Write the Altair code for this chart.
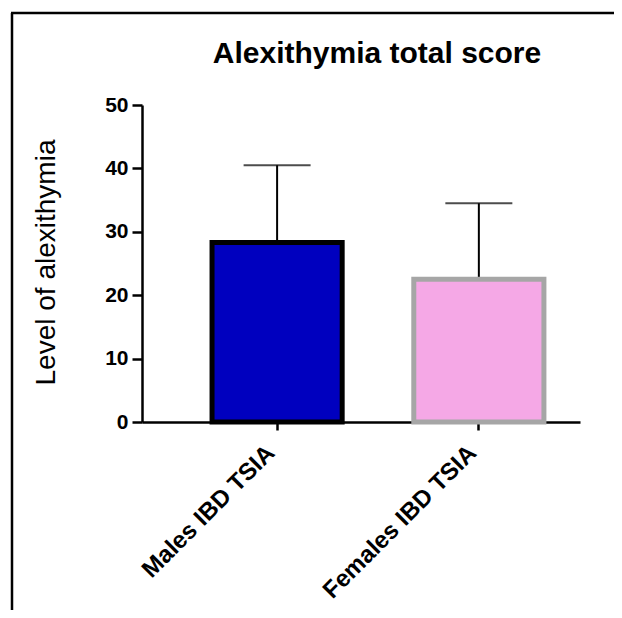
import altair as alt
import pandas as pd

groups = ["Males IBD TSIA", "Females IBD TSIA"]
means = [28.3, 22.5]
sds = [12.2, 12.0]
fills = ["#0000BF", "#F5A8E6"]
strokes = ["#000000", "#A6A6A6"]
y_ticks = [0, 10, 20, 30, 40, 50]
chart_title = "Alexithymia total score"

df = pd.DataFrame({"group": groups, "mean": means, "sd": sds})
df["upper"] = df["mean"] + df["sd"]

FONT = "Liberation Sans"

x_enc = alt.X(
    "group:N",
    sort=groups,
    scale=alt.Scale(paddingInner=0.355, paddingOuter=0.263, align=0.66),
    axis=alt.Axis(
        title=None,
        labelAngle=315,
        labelAlign="right",
        labelBaseline="middle",
        labelPadding=19,
        labelOffset=-6,
        labelLimit=0,
        labelFont=FONT,
        labelFontSize=24,
        labelFontWeight="bold",
        labelColor="#000000",
        tickSize=8,
        tickWidth=2.5,
        tickColor="#000000",
        domainWidth=2.5,
        domainColor="#000000",
    ),
)

y_scale = alt.Scale(domain=[0, 50], nice=False)
y_axis = alt.Axis(
    title="Level of alexithymia",
    values=y_ticks,
    grid=False,
    titleFont=FONT,
    titleFontSize=28,
    titleFontWeight="normal",
    titleColor="#000000",
    titleAngle=270,
    titleX=-82,
    titleY=157,
    titleBaseline="bottom",
    titleAlign="center",
    labelFont=FONT,
    labelFontSize=21,
    labelFontWeight="bold",
    labelColor="#000000",
    labelPadding=4,
    tickSize=10,
    tickWidth=2.5,
    tickColor="#000000",
    domainWidth=2.5,
    domainColor="#000000",
)

base = alt.Chart(df)

err = base.mark_rule(color="#000000", strokeWidth=2).encode(
    x=x_enc,
    y=alt.Y("mean:Q", scale=y_scale, axis=y_axis),
    y2="upper:Q",
)

cap = base.mark_tick(color="#000000", size=67, thickness=2, orient="horizontal").encode(
    x=x_enc,
    y=alt.Y("upper:Q", scale=y_scale),
)

bars = base.mark_bar(strokeWidth=5).encode(
    x=x_enc,
    y=alt.Y("mean:Q", scale=y_scale),
    fill=alt.Fill("group:N", scale=alt.Scale(domain=groups, range=fills), legend=None),
    stroke=alt.Stroke("group:N", scale=alt.Scale(domain=groups, range=strokes), legend=None),
)

title_df = pd.DataFrame({"t": [chart_title]})
title_mark = alt.Chart(title_df).mark_text(
    font=FONT, fontSize=30, fontWeight="bold", color="#000000",
    align="center", baseline="alphabetic",
).encode(text="t:N", x=alt.value(235), y=alt.value(-42))

border_v = alt.Chart(title_df).mark_rule(color="#000000", strokeWidth=2.5).encode(
    x=alt.value(-130), y=alt.value(-92), y2=alt.value(510)
)
border_h = alt.Chart(title_df).mark_rule(color="#000000", strokeWidth=2.5).encode(
    x=alt.value(-131), x2=alt.value(490), y=alt.value(-92)
)

chart = (
    alt.layer(err, cap, bars, title_mark, border_v, border_h)
    .properties(
        width=438,
        height=317,
        background="#ffffff",
        autosize=alt.AutoSizeParams(type="none"),
        padding={"left": 134, "top": 97, "right": 34, "bottom": 188},
    )
    .configure_view(strokeWidth=0, stroke="transparent")
)

chart.save("out.html", embed_options={"renderer": "svg", "actions": False})
